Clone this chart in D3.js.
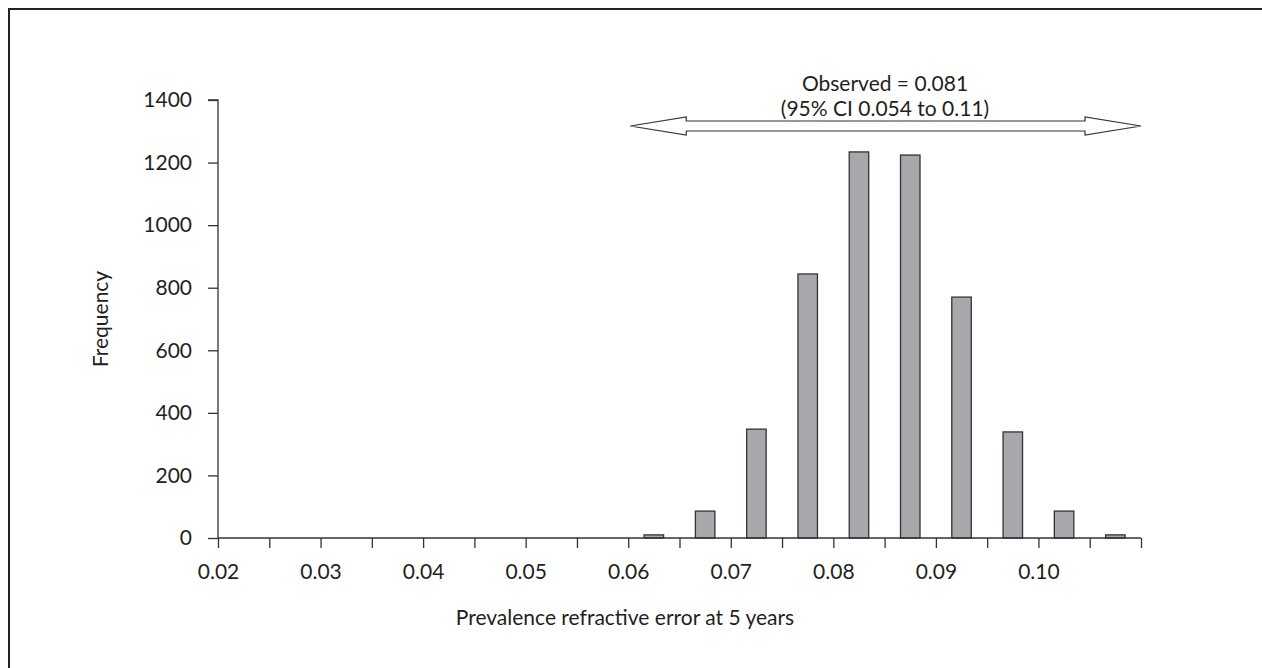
<!DOCTYPE html>
<html>
<head>
<meta charset="utf-8">
<script src="https://cdn.jsdelivr.net/npm/d3@7"></script>
<style>
  body { margin: 0; background: #fff; }
  text { font-family: Lato, "Open Sans", sans-serif; fill: #231f20; }
</style>
</head>
<body>
<div id="chart"></div>
<script>
// histogram bins (bin centre) and frequencies
var binCentres = [0.0625, 0.0675, 0.0725, 0.0775, 0.0825, 0.0875, 0.0925, 0.0975, 0.1025, 0.1075];
var counts = [10, 86, 348, 844, 1234, 1224, 770, 339, 86, 10];
var yTicks = [0, 200, 400, 600, 800, 1000, 1200, 1400];
var xTickLabels = [0.02, 0.03, 0.04, 0.05, 0.06, 0.07, 0.08, 0.09, 0.10];
var annotation = ["Observed = 0.081", "(95% CI 0.054 to 0.11)"];
var arrowRange = [0.0602, 0.11];

var width = 1262, height = 668;
var margin = {left: 218, right: 121, top: 100, bottom: 130};
var fs = "21px";

var svg = d3.select("#chart").append("svg")
  .attr("width", width)
  .attr("height", height);

// frame (top and left only)
svg.append("path")
  .attr("d", "M9,668 L9,9 L1262,9")
  .attr("fill", "none")
  .attr("stroke", "#222")
  .attr("stroke-width", 2);

var x = d3.scaleLinear().domain([0.02, 0.11]).range([margin.left, width - margin.right]);
var y = d3.scaleLinear().domain([0, 1400]).range([height - margin.bottom, margin.top]);
var y0 = y(0);

// bars
var barW = x(0.0219) - x(0.02);
svg.selectAll("rect.bar")
  .data(binCentres)
  .enter().append("rect")
  .attr("class", "bar")
  .attr("x", function(d) { return x(d) - barW / 2; })
  .attr("y", function(d, i) { return y(counts[i]); })
  .attr("width", barW)
  .attr("height", function(d, i) { return y0 - y(counts[i]); })
  .attr("fill", "#a7a8ac")
  .attr("stroke", "#333")
  .attr("stroke-width", 1.3);

// y axis
var yAxis = d3.axisLeft(y).tickValues(yTicks).tickSize(10).tickPadding(16).tickFormat(d3.format("d"));
var gy = svg.append("g").attr("transform", "translate(" + margin.left + ",0)").call(yAxis);
gy.select(".domain").attr("stroke", "#333").attr("stroke-width", 1.3).attr("d", "M-10," + y(1400) + "H0V" + y0);
gy.selectAll(".tick line").attr("stroke", "#333").attr("stroke-width", 1.3);
gy.selectAll(".tick text").style("font-size", fs).style("font-family", "Lato, sans-serif").attr("fill", "#231f20");

// x axis: ticks every 0.005, labels at each 0.01
var xTickVals = d3.range(0, 19).map(function(i) { return 0.02 + i * 0.005; });
var xAxis = d3.axisBottom(x).tickValues(xTickVals).tickSize(10).tickPadding(16)
  .tickFormat(function(d) {
    var lab = xTickLabels.find(function(v) { return Math.abs(v - d) < 1e-9; });
    return lab === undefined ? "" : d3.format(".2f")(lab);
  });
var gx = svg.append("g").attr("transform", "translate(0," + y0 + ")").call(xAxis);
gx.select(".domain").attr("stroke", "#333").attr("stroke-width", 1.3).attr("d", "M" + margin.left + ",0H" + x(0.11));
gx.selectAll(".tick line").attr("stroke", "#333").attr("stroke-width", 1.3);
gx.selectAll(".tick text").style("font-size", fs).style("font-family", "Lato, sans-serif").attr("fill", "#231f20");

// axis titles
svg.append("text")
  .attr("transform", "translate(108," + ((y(1400) + y0) / 2) + ") rotate(-90)")
  .attr("text-anchor", "middle")
  .style("font-size", fs)
  .text("Frequency");

svg.append("text")
  .attr("x", 625)
  .attr("y", 625)
  .attr("text-anchor", "middle")
  .style("font-size", fs)
  .text("Prevalence refractive error at 5 years");

// annotation
svg.selectAll("text.ann")
  .data(annotation)
  .enter().append("text")
  .attr("class", "ann")
  .attr("x", 885)
  .attr("y", function(d, i) { return 91 + i * 25; })
  .attr("text-anchor", "middle")
  .style("font-size", fs)
  .text(function(d) { return d; });

// hollow double-headed arrow
var ax0 = x(arrowRange[0]), ax1 = x(arrowRange[1]), ay = 126;
var head = 56, hh = 9, sh = 5;
var arrowPath = [
  [ax0, ay], [ax0 + head, ay - hh], [ax0 + head, ay - sh], [ax1 - head, ay - sh],
  [ax1 - head, ay - hh], [ax1, ay], [ax1 - head, ay + hh], [ax1 - head, ay + sh],
  [ax0 + head, ay + sh], [ax0 + head, ay + hh]
];
svg.append("path")
  .attr("d", d3.line()(arrowPath) + "Z")
  .attr("fill", "#fff")
  .attr("stroke", "#333")
  .attr("stroke-width", 1.2);
</script>
</body>
</html>
